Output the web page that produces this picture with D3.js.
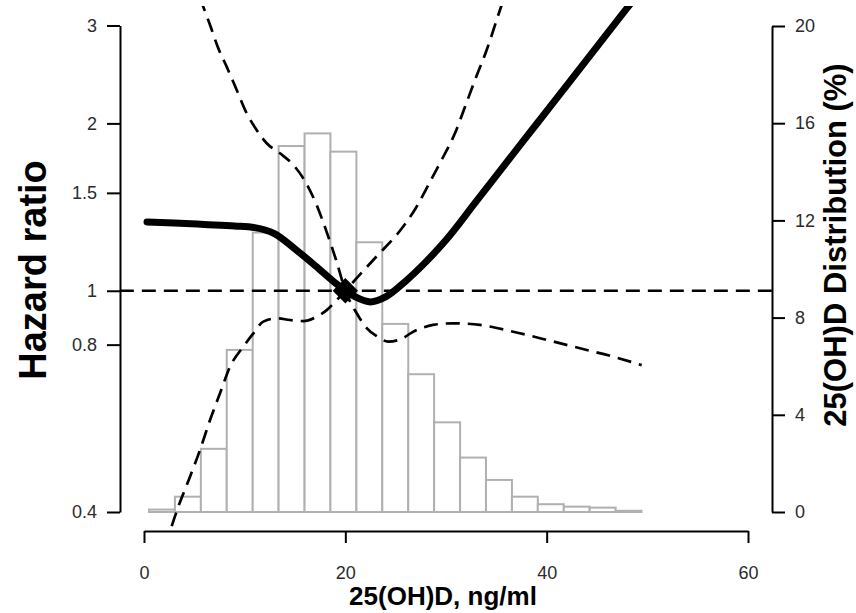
<!DOCTYPE html>
<html>
<head>
<meta charset="utf-8">
<script src="https://cdn.jsdelivr.net/npm/d3@7"></script>
<style>
  html, body { margin: 0; padding: 0; background: #fff; }
  svg { display: block; font-family: "Liberation Sans", Arial, sans-serif; }
</style>
</head>
<body>
<svg id="chart" width="856" height="613"></svg>
<script>
// 25(OH)D: spline hazard ratio with confidence band, over the level distribution

// x-axis ticks (ng/ml)
const xTicks = [0, 20, 40, 60];
// left axis: hazard ratio (log scale)
const hrTicks = [0.4, 0.8, 1, 1.5, 2, 3];
// right axis: distribution (%)
const pctTicks = [0, 4, 8, 12, 16, 20];

// histogram bin edges (ng/ml) and share of participants in each bin (%)
const binEdges = [0.5, 3.07, 5.65, 8.22, 10.8, 13.37, 15.95, 18.52, 21.1, 23.67,
                  26.25, 28.82, 31.4, 33.97, 36.55, 39.12, 41.7, 44.27, 46.85, 49.42];
const binPct = [0.1, 0.63, 2.6, 6.67, 11.5, 15.06, 15.58, 14.83, 11.1, 7.74,
                5.67, 3.69, 2.24, 1.32, 0.63, 0.32, 0.22, 0.18, 0.05];

// estimated hazard ratio curve (reference 20 ng/ml)
const hrX = [0.3, 3, 6, 9, 11, 13, 15, 17, 19, 20, 21, 22.5, 24, 26, 28, 30, 33, 36, 39, 42, 45, 48, 49.4];
const hrY = [1.33, 1.324, 1.316, 1.308, 1.299, 1.266, 1.189, 1.110, 1.033, 1.0, 0.975, 0.955, 0.975,
             1.041, 1.127, 1.234, 1.448, 1.700, 1.995, 2.342, 2.749, 3.226, 3.476];

// confidence limit that falls from the upper left through the reference point
const ciAX = [5.56, 6.56, 7.38, 8.21, 9.21, 10.2, 11.19, 12.19, 13.51, 14.83, 16.16, 17.15, 18.15, 19.14,
              20, 21.13, 22.12, 23.11, 24.27, 25.43, 26.75, 28.71, 30.72, 33.38, 36.68, 40, 43.31, 46.62, 49.44];
const ciAY = [3.36, 3.006, 2.73, 2.53, 2.297, 2.086, 1.946, 1.842, 1.767, 1.684, 1.556, 1.426, 1.275, 1.127,
              1.0, 0.911, 0.857, 0.829, 0.81, 0.817, 0.844, 0.868, 0.874, 0.868, 0.844, 0.816, 0.788, 0.761, 0.735];

// confidence limit that rises from the lower left through the reference point
const ciBX = [2.09, 3.41, 4.57, 5.56, 6.56, 7.55, 8.54, 9.86, 10.86, 11.85, 13.18, 14.5, 15.82, 17.15, 18.15,
              19.14, 20, 21.26, 23.24, 25.23, 27.02, 28.41, 29.73, 30.89, 31.89, 32.88, 34.04, 35.36, 35.86];
const ciBY = [0.346, 0.409, 0.463, 0.517, 0.5855, 0.654, 0.73, 0.793, 0.838, 0.88, 0.892, 0.886, 0.882, 0.898, 0.923,
              0.962, 1.0, 1.06, 1.16, 1.269, 1.41, 1.57, 1.742, 1.92, 2.143, 2.394, 2.71, 3.199, 3.40];

// reference point
const refX = 20, refHR = 1;

const svg = d3.select("#chart");

const x = d3.scaleLinear().domain([0, 60]).range([144, 748]);
const yHR = d3.scaleLog().domain([0.4, 3]).range([512, 25.5]);
const yPct = d3.scaleLinear().domain([0, 20]).range([512, 26]);

// plotting region (axis limits plus 4% padding)
const plotL = x(-2.4), plotR = x(62.4), plotT = 6, plotB = 531.5;

svg.append("defs").append("clipPath").attr("id", "plotClip")
  .append("rect").attr("x", plotL).attr("y", plotT)
  .attr("width", plotR - plotL).attr("height", plotB - plotT);

// histogram
const bins = binPct.map((p, i) => ({ x0: binEdges[i], x1: binEdges[i + 1], p }));
svg.append("g")
  .selectAll("rect").data(bins).join("rect")
  .attr("x", d => x(d.x0))
  .attr("y", d => yPct(d.p))
  .attr("width", d => x(d.x1) - x(d.x0))
  .attr("height", d => yPct(0) - yPct(d.p))
  .attr("fill", "#fff")
  .attr("stroke", "#b0b0b0")
  .attr("stroke-width", 2);

const plot = svg.append("g").attr("clip-path", "url(#plotClip)");
const dash = "14,8";

// reference line at HR = 1
plot.append("line")
  .attr("x1", plotL).attr("x2", plotR)
  .attr("y1", yHR(1)).attr("y2", yHR(1))
  .attr("stroke", "#000").attr("stroke-width", 2.7)
  .attr("stroke-dasharray", dash);

const line = d3.line().x(d => x(d[0])).y(d => yHR(d[1])).curve(d3.curveMonotoneX);
const zip = (a, b) => a.map((v, i) => [v, b[i]]);

plot.append("path").datum(zip(ciAX, ciAY))
  .attr("d", line).attr("fill", "none")
  .attr("stroke", "#000").attr("stroke-width", 2.7).attr("stroke-dasharray", dash);

plot.append("path").datum(zip(ciBX, ciBY))
  .attr("d", line).attr("fill", "none")
  .attr("stroke", "#000").attr("stroke-width", 2.7).attr("stroke-dasharray", dash);

plot.append("path").datum(zip(hrX, hrY))
  .attr("d", line).attr("fill", "none")
  .attr("stroke", "#000").attr("stroke-width", 7)
  .attr("stroke-linecap", "round").attr("stroke-linejoin", "round");

plot.append("path")
  .attr("d", d3.symbol(d3.symbolSquare, 320)())
  .attr("transform", `translate(${x(refX)},${yHR(refHR)}) rotate(45)`)
  .attr("fill", "#000");

// axes
function styleAxis(g) {
  g.select(".domain").attr("stroke", "#000").attr("stroke-width", 2);
  g.selectAll(".tick line").attr("stroke", "#000").attr("stroke-width", 2);
  g.selectAll(".tick text").attr("fill", "#2b2b2b").style("font-size", "18px")
    .style("font-family", "'Liberation Sans', Arial, sans-serif");
}

svg.append("g").attr("transform", "translate(120,0)")
  .call(d3.axisLeft(yHR).tickValues(hrTicks).tickFormat(d => String(d))
    .tickSizeInner(13).tickSizeOuter(0).tickPadding(10))
  .call(styleAxis);

svg.append("g").attr("transform", "translate(772,0)")
  .call(d3.axisRight(yPct).tickValues(pctTicks).tickFormat(d => String(d))
    .tickSizeInner(13).tickSizeOuter(0).tickPadding(10))
  .call(styleAxis);

svg.append("g").attr("transform", "translate(0,531)")
  .call(d3.axisBottom(x).tickValues(xTicks).tickFormat(d => String(d))
    .tickSizeInner(12).tickSizeOuter(0).tickPadding(23))
  .call(styleAxis);

// axis titles
svg.append("text")
  .attr("x", 443).attr("y", 605)
  .attr("text-anchor", "middle")
  .style("font-weight", "bold").style("font-size", "26px")
  .text("25(OH)D, ng/ml");

svg.append("text")
  .attr("transform", "translate(46,270) rotate(-90)")
  .attr("text-anchor", "middle")
  .style("font-weight", "bold").style("font-size", "38px")
  .text("Hazard ratio");

svg.append("text")
  .attr("transform", "translate(846,245) rotate(-90)")
  .attr("text-anchor", "middle")
  .style("font-weight", "bold").style("font-size", "31px")
  .text("25(OH)D Distribution (%)");
</script>
</body>
</html>
